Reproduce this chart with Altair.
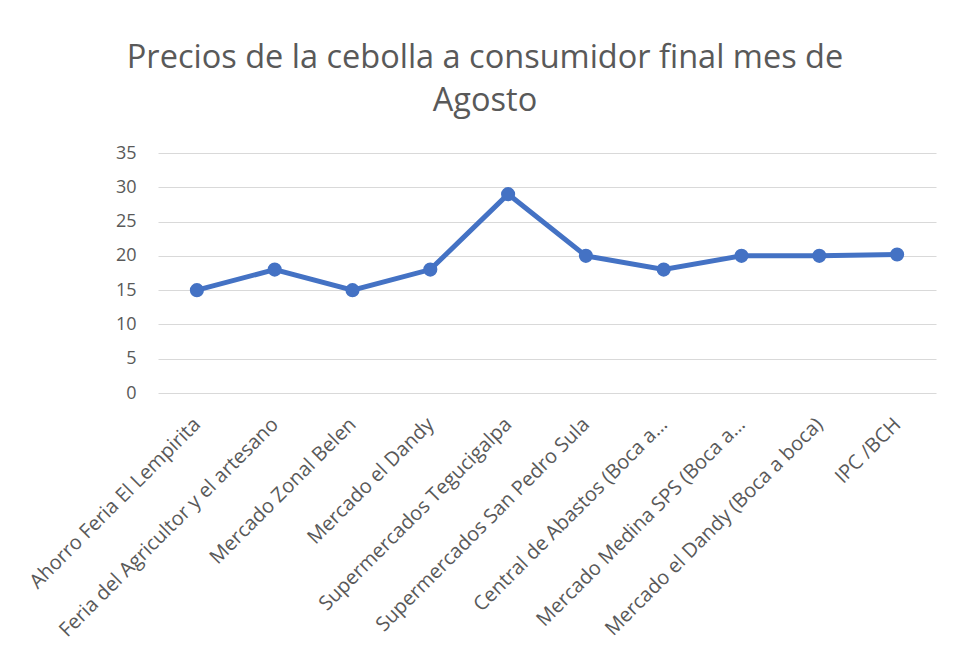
import altair as alt
import pandas as pd

categories = [
    "Ahorro Feria El Lempirita",
    "Feria del Agricultor y el artesano",
    "Mercado Zonal Belen",
    "Mercado el Dandy",
    "Supermercados Tegucigalpa",
    "Supermercados San Pedro Sula",
    "Central de Abastos (Boca a…",
    "Mercado Medina SPS (Boca a…",
    "Mercado el Dandy (Boca a boca)",
    "IPC /BCH",
]
prices = [15, 18, 15, 18, 29, 20, 18, 20, 20, 20.2]
y_ticks = [0, 5, 10, 15, 20, 25, 30, 35]

df = pd.DataFrame({"Mercado": categories, "Precio": prices})

FONT = "Open Sans"
GRAY = "#595959"
BLUE = "#4472C4"

x = alt.X(
    "Mercado:N",
    sort=categories,
    scale=alt.Scale(padding=0.5),
    axis=alt.Axis(
        title=None,
        labelAngle=-45,
        labelAlign="right",
        labelBaseline="middle",
        labelPadding=28,
        labelFont=FONT,
        labelFontSize=20,
        labelColor=GRAY,
        labelLimit=500,
        domain=False,
        ticks=False,
        grid=False,
    ),
)
y = alt.Y(
    "Precio:Q",
    scale=alt.Scale(domain=[0, 35], nice=False, zero=True),
    axis=alt.Axis(
        title=None,
        values=y_ticks,
        labelFont=FONT,
        labelFontSize=18,
        labelColor=GRAY,
        labelPadding=22,
        domain=False,
        ticks=False,
        gridColor="#d9d9d9",
        gridWidth=1.2,
    ),
)

base = alt.Chart(df).encode(x=x, y=y)
line = base.mark_line(color=BLUE, strokeWidth=5)
pts = base.mark_point(color=BLUE, filled=True, opacity=1, size=200)

chart = (
    alt.layer(line, pts)
    .properties(
        width=778,
        height=240,
        background="white",
        padding={"left": 150, "top": 145, "right": 9, "bottom": 266},
        autosize=alt.AutoSizeParams(type="none"),
        title=alt.TitleParams(
            ["Precios de la cebolla a consumidor final mes de", "Agosto"],
            font=FONT,
            fontSize=32.5,
            fontWeight="normal",
            color=GRAY,
            lineHeight=43,
            anchor="middle",
            frame="group",
            dx=-62,
            offset=27,
        ),
    )
    .configure_view(stroke="transparent", strokeWidth=0)
)

chart.save("out.html", embed_options={"renderer": "svg", "actions": False})
